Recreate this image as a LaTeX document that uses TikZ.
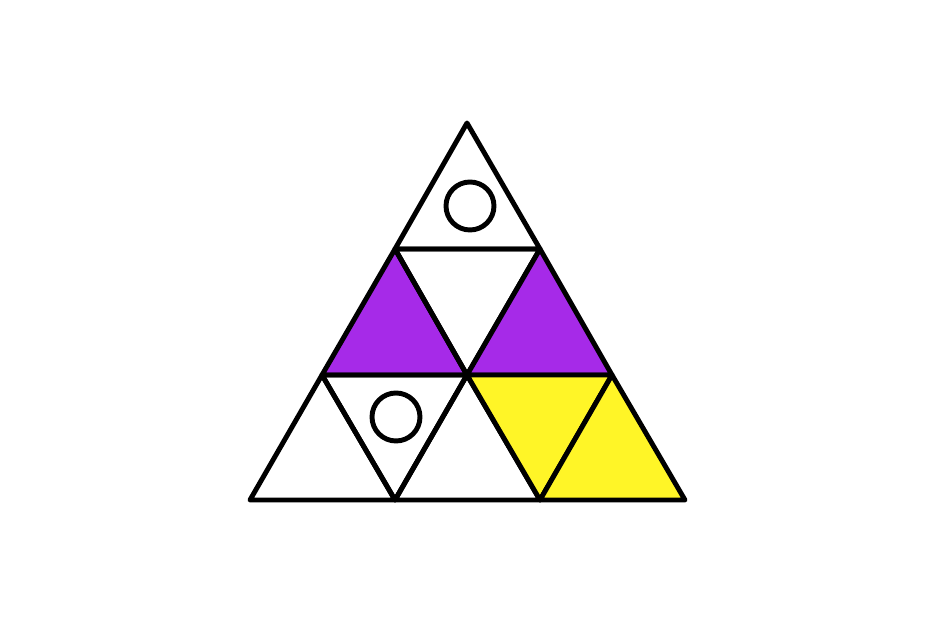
\documentclass[tikz,border=0pt]{standalone}
\usepackage{xcolor}
\definecolor{purplefill}{HTML}{A62AE8}
\definecolor{yellowfill}{HTML}{FFF527}

\begin{document}
\begin{tikzpicture}[x = 0.01cm, y = -0.01cm, line width = 1.4pt, line join = round]
    \useasboundingbox (0, 0) rectangle (938, 625);
    {
      \draw (467, 123) -- (395, 249) -- (540, 249) -- cycle;
      \draw (470, 206) circle (24);
    }
    {
      \filldraw[fill = purplefill] (395, 249) -- (322, 375) -- (467, 375) -- cycle;
      \draw (395, 249) -- (540, 249) -- (467, 375) -- cycle;
      \filldraw[fill = purplefill] (540, 249) -- (467, 375) -- (612, 375) -- cycle;
    }
    {
      \draw (322, 375) -- (250, 500) -- (395, 500) -- cycle;
      \draw (322, 375) -- (467, 375) -- (395, 500) -- cycle;
      \draw (396, 417) circle (24);
      \draw (467, 375) -- (395, 500) -- (540, 500) -- cycle;
      \filldraw[fill = yellowfill] (467, 375) -- (612, 375) -- (540, 500) -- cycle;
      \filldraw[fill = yellowfill] (612, 375) -- (540, 500) -- (685, 500) -- cycle;
    }
  \end{tikzpicture}
\end{document}
